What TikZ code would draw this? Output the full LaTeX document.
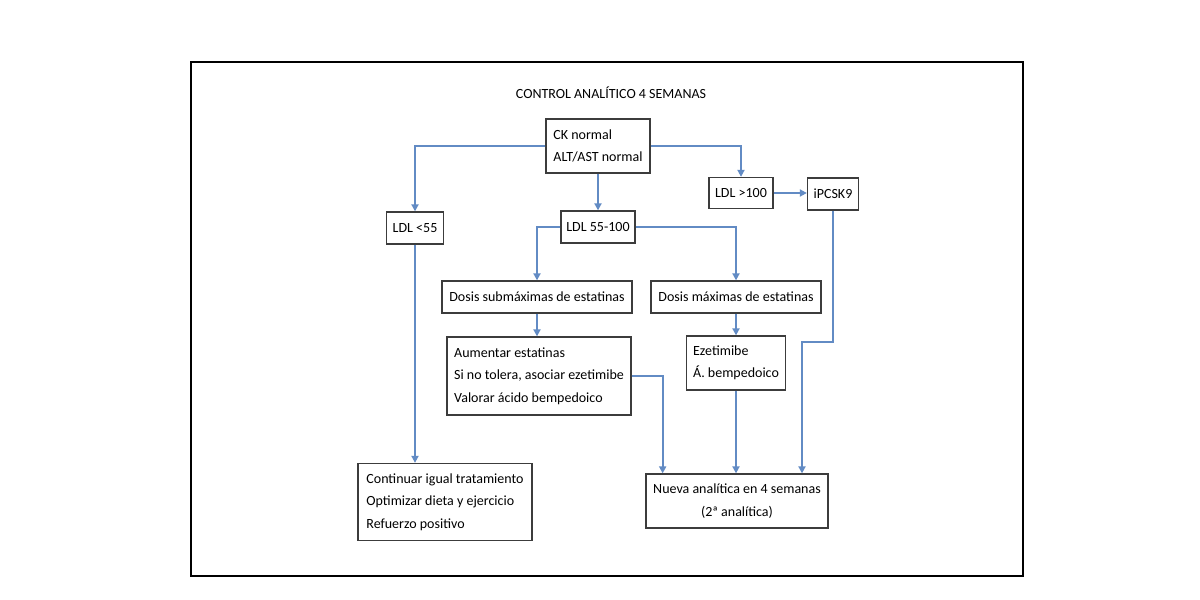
\documentclass[tikz,border=0pt]{standalone}
\usepackage{fontspec}
\setmainfont{Carlito}
\usetikzlibrary{arrows.meta,calc}
\definecolor{flowblue}{RGB}{98,139,196}
\definecolor{boxgray}{RGB}{60,60,60}
\begin{document}
\begin{tikzpicture}[x=1pt,y=-1pt,
  box/.style={draw=boxgray,line width=1.3pt,fill=white,inner xsep=3pt,inner ysep=0pt,align=left,font=\fontsize{14}{22.5}\selectfont},
  cbox/.style={box,align=center},
  arr/.style={draw=flowblue,line width=2.2pt,-{Triangle[length=7pt,width=7pt]}},
  frame/.style={draw=black,line width=2pt}]
\useasboundingbox (0,0) rectangle (1200,600);
\fill[white] (0,0) rectangle (1200,600);
\draw[frame] (191,62) rectangle (1023,576);
\node[font=\fontsize{14}{17}\selectfont] (title) at (611,93) {CONTROL ANALÍTICO 4 SEMANAS};
% boxes
\node[box,minimum width=104pt,minimum height=54pt] (ck) at (598,146) {CK normal\\ALT/AST normal};
\node[box,minimum width=64pt,minimum height=31pt] (l100) at (741,193) {LDL >100};
\node[box,minimum width=51pt,minimum height=32pt] (ipc) at (833,194) {iPCSK9};
\node[box,minimum width=57pt,minimum height=32pt] (l55) at (415,228) {LDL <55};
\node[box,minimum width=74pt,minimum height=32pt] (lmid) at (598,227) {LDL 55-100};
\node[box,minimum width=190pt,minimum height=32pt] (dsub) at (537,297) {Dosis submáximas de estatinas};
\node[box,minimum width=170pt,minimum height=32pt] (dmax) at (736,297) {Dosis máximas de estatinas};
\node[box,minimum width=184pt,minimum height=78pt] (aum) at (539,376) {Aumentar estatinas\\Si no tolera, asociar ezetimibe\\Valorar ácido bempedoico};
\node[box,minimum width=99pt,minimum height=54pt] (eze) at (736,363) {Ezetimibe\\Á. bempedoico};
\node[box,minimum width=174pt,minimum height=77pt] (cont) at (445,502) {Continuar igual tratamiento\\Optimizar dieta y ejercicio\\Refuerzo positivo};
\node[cbox,minimum width=182pt,minimum height=54pt] (nueva) at (737,501) {Nueva analítica en 4 semanas\\(2ª analítica)};
% connectors
\draw[arr] (ck.west) -| (l55.north);
\draw[arr] (ck.east) -| (l100.north);
\draw[arr] (ck.south) -- (lmid.north);
\draw[arr] (l100.east) -- (ipc.west |- l100.east);
\draw[arr] (lmid.west) -| (dsub.north);
\draw[arr] (lmid.east) -| (dmax.north);
\draw[arr] (dsub.south) -- (dsub.south |- aum.north);
\draw[arr] (dmax.south) -- (dmax.south |- eze.north);
\draw[arr] (l55.south) -- (l55.south |- cont.north);
\draw[arr] (aum.east) -| ([xshift=31pt]aum.east |- nueva.north);
\draw[arr] (eze.south) -- (eze.south |- nueva.north);
\draw[arr] (ipc.south) -- (ipc.south |- 0,342) -| ([xshift=-31pt]ipc.south |- nueva.north);
\end{tikzpicture}
\end{document}
